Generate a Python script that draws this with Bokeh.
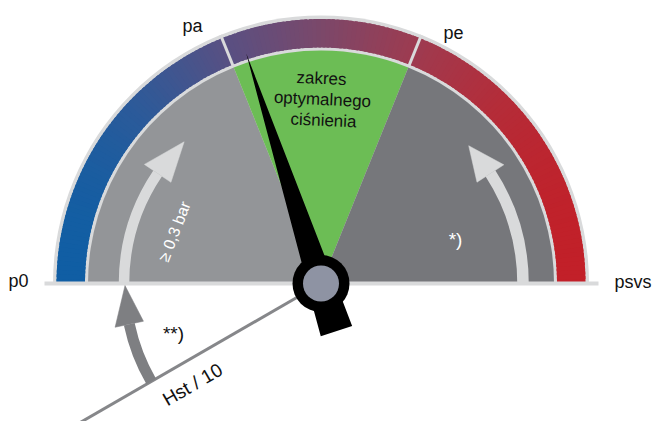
import numpy as np
from bokeh.plotting import figure
from bokeh.models import Range1d
from bokeh.core.properties import value
from bokeh.embed import file_html
from bokeh.resources import INLINE

# ---------------- data ----------------
scale_labels = ["p0", "pa", "pe", "psvs"]
zone_edges_deg = [180, 112, 68, 0]              # p0 | pa | pe | psvs
zone_colors = ["#939598", "#6cbd55", "#76777b"]
zone_text = ["zakres", "optymalnego", "ciśnienia"]
band_stop_x = [58, 140, 225, 320, 415, 500, 583]
band_stop_colors = ["#0b5fa6", "#2d5a99", "#585083", "#7b486a", "#9e3b50", "#b52c38", "#c41e26"]
needle_deg = 108
hst_deg = 210
left_arrow_deg = [180, 146, 134]     # shaft start, head base, tip
right_arrow_deg = [0, 33, 43]
hst_arrow_deg = [210, 192, 180.6]
note_texts = ["≥ 0,3 bar", "*)", "**)", "Hst / 10"]

# ---------------- geometry / style ----------------
CX, CY = 320.5, 138.0
R_OUT, R_BAND_OUT, R_BAND_IN, R_IN = 268, 264.5, 236, 233
LIGHT = "#d9dadb"
DARK_ARROW = "#7e7f82"
FONT = value("Liberation Sans")

p = figure(width=652, height=421, x_range=Range1d(0, 652), y_range=Range1d(0, 421),
           x_axis_type=None, y_axis_type=None, output_backend="svg",
           toolbar_location=None, min_border=0, outline_line_color=None,
           background_fill_color="white", border_fill_color="white")
p.xgrid.visible = False
p.ygrid.visible = False

rad = np.radians

def pol(r, deg):
    a = rad(deg)
    return CX + r * np.cos(a), CY + r * np.sin(a)

# outer light-gray half disc
p.wedge(x=CX, y=CY, radius=R_OUT, start_angle=0, end_angle=np.pi,
        fill_color=LIGHT, line_color=None)

# gradient band (overlapping slices to avoid seams)
def hex2rgb(h):
    return np.array([int(h[i:i + 2], 16) for i in (1, 3, 5)], dtype=float)

stops = np.array([hex2rgb(c) for c in band_stop_colors])
edges = np.linspace(0, 180, 181)
starts, ends, cols = [], [], []
rm = (R_BAND_IN + R_BAND_OUT) / 2
for a0, a1 in zip(edges[:-1], edges[1:]):
    xm = CX + rm * np.cos(rad((a0 + a1) / 2))
    rgb = [np.interp(xm, band_stop_x, stops[:, k]) for k in range(3)]
    cols.append("#%02x%02x%02x" % tuple(int(round(v)) for v in rgb))
    starts.append(rad(a0))
    ends.append(rad(min(a1 + 0.6, 180)))
n = len(starts)
p.annular_wedge(x=[CX] * n, y=[CY] * n, inner_radius=R_BAND_IN, outer_radius=R_BAND_OUT,
                start_angle=starts, end_angle=ends, fill_color=cols, line_color=None)

# gaps at pa / pe
for d in zone_edges_deg[1:3]:
    x0, y0 = pol(R_IN, d)
    x1, y1 = pol(R_OUT, d)
    p.segment(x0=[x0], y0=[y0], x1=[x1], y1=[y1], line_color=LIGHT, line_width=3)

# inner sectors
for i, c in enumerate(zone_colors):
    p.wedge(x=CX, y=CY, radius=R_IN, start_angle=rad(zone_edges_deg[i + 1]),
            end_angle=rad(zone_edges_deg[i]), fill_color=c, line_color=None)

# arc arrows
def arc_arrow(r, degs, color, width, head_w):
    a_start, a_base, a_tip = degs
    lo, hi = sorted([a_start, a_base])
    p.arc(x=CX, y=CY, radius=r, start_angle=rad(lo), end_angle=rad(hi),
          line_color=color, line_width=width, line_cap="butt")
    bx0, by0 = pol(r - head_w / 2, a_base)
    bx1, by1 = pol(r + head_w / 2, a_base)
    tx, ty = pol(r, a_tip)
    p.patch(x=[bx0, bx1, tx], y=[by0, by1, ty], fill_color=color, line_color=color,
            line_width=0.5)

arc_arrow(197, left_arrow_deg, LIGHT, 10.5, 32)
arc_arrow(202, right_arrow_deg, LIGHT, 11.5, 32)

# baseline
p.segment(x0=[44], y0=[CY], x1=[598], y1=[CY], line_color=LIGHT, line_width=4)

# Hst / 10 line
hx, hy = pol(300, hst_deg)
p.segment(x0=[CX], y0=[CY], x1=[hx], y1=[hy], line_color="#86878a", line_width=3)
arc_arrow(196, hst_arrow_deg, DARK_ARROW, 11, 29)

# needle
u = np.array([np.cos(rad(needle_deg)), np.sin(rad(needle_deg))])
nv = np.array([-u[1], u[0]])
c = np.array([CX, CY])
pts = [c + 242 * u,
       c + 25 * u + 12 * nv,
       c - 20 * u + 15 * nv,
       c - 50 * u + 16.5 * nv,
       c - 50 * u - 16.5 * nv,
       c - 20 * u - 15 * nv,
       c + 25 * u - 12 * nv]
p.patch(x=[q[0] for q in pts], y=[q[1] for q in pts], fill_color="black", line_color=None)

# hub
p.circle(x=[CX], y=[CY], radius=28.5, fill_color="black", line_color=None)
p.circle(x=[CX], y=[CY], radius=18, fill_color="#8e93a3", line_color=None)

# scale labels
p.text(x=[18, 192, 453, 614], y=[421 - 280, 421 - 25, 421 - 32, 421 - 281],
       text=scale_labels, text_font=FONT, text_font_size="18px",
       text_align=["center", "center", "center", "left"], text_baseline="alphabetic",
       text_color="#111111")

# optimal zone text
p.text(x=[321, 322, 323], y=[421 - 78, 421 - 99, 421 - 120], text=zone_text,
       text_font=FONT, text_font_size="17px", text_align="center",
       text_baseline="alphabetic", text_color="#111111", angle=rad(-2.5))

# notes
p.text(x=[174], y=[421 - 231], text=[note_texts[0]], text_font=FONT, text_font_size="16px",
       text_align="center", text_baseline="middle", text_color="white", angle=rad(69))
p.text(x=[455], y=[421 - 239], text=[note_texts[1]], text_font=FONT, text_font_size="19px",
       text_align="center", text_baseline="alphabetic", text_color="white")
p.text(x=[173], y=[421 - 333], text=[note_texts[2]], text_font=FONT, text_font_size="19px",
       text_align="center", text_baseline="alphabetic", text_color="#111111")
p.text(x=[192], y=[421 - 384], text=[note_texts[3]], text_font=FONT, text_font_size="19px",
       text_align="center", text_baseline="middle", text_color="#111111", angle=rad(30))

open("out.html", "w").write(file_html(p, INLINE))
